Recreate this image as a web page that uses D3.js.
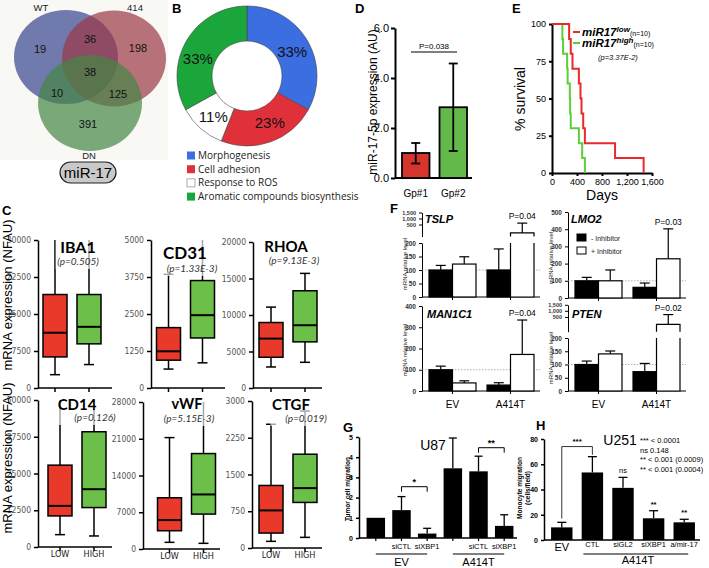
<!DOCTYPE html>
<html>
<head>
<meta charset="utf-8">
<script src="https://cdn.jsdelivr.net/npm/d3@7"></script>
<style>
  body { margin: 0; background: #fff; }
  svg { display: block; font-family: "Liberation Sans", Arial, sans-serif; }
</style>
</head>
<body>
<svg id="fig" width="709" height="568"></svg>
<script>
// ---------------- data ----------------
const vennSets = ["WT", "414", "DN"];
const vennCounts = [19, 36, 198, 38, 10, 125, 391]; // WT, WT&414, 414, all, WT&DN, 414&DN, DN

const goTerms = ["Morphogenesis", "Cell adhesion", "Response to ROS", "Aromatic compounds biosynthesis"];
const goShares = [33, 23, 11, 33];
const goColors = ["#3b6ee0", "#e0313b", "#ffffff", "#1ba63c"];

const gpGroups = ["Gp#1", "Gp#2"];
const gpMeans = [1.0, 2.83];
const gpLow = [0.58, 1.08];
const gpHigh = [1.4, 4.58];
const gpTicks = [0, 2, 4, 6];

const survLow = [[0,100],[274,90],[300,80],[328,70],[430,60],[456,50],[472,40],[499,30],[526,20],[1009,10],[1466,0]];
const survHigh = [[0,100],[166,90],[177,80],[242,70],[250,60],[285,50],[290,40],[300,30],[430,20],[483,10],[526,0]];
const survDays = [0, 400, 800, 1200, 1600];
const survPct = [0, 25, 50, 75, 100];

const boxGenes = ["IBA1", "CD31", "RHOA", "CD14", "vWF", "CTGF"];
const boxPvals = ["(p=0.505)", "(p=1.33E-3)", "(p=9.13E-3)", "(p=0.126)", "(p=5.15E-3)", "(p=0.019)"];
const boxMax = [30000, 5000, 20000, 50000, 28000, 3000];
const boxGroups = ["LOW", "HIGH"];
// [min, q1, median, q3, max]
const boxLow = [
  [2700, 6300, 11200, 18950, 30000],
  [640, 940, 1240, 2040, 3840],
  [2880, 4210, 6770, 8970, 11080],
  [4200, 10570, 13980, 27840, 50000],
  [1270, 3480, 5510, 9760, 21220],
  [136, 305, 767, 1276, 2525]
];
const boxHigh = [
  [4750, 8950, 12400, 18950, 30000],
  [850, 1690, 2460, 3630, 5000],
  [3520, 6320, 8600, 13320, 15700],
  [3750, 13410, 19660, 39200, 50000],
  [1080, 6650, 10390, 18180, 28000],
  [217, 930, 1222, 1914, 2796]
];
const boxColors = ["#e8392b", "#6cbf49"];

const fGenes = ["TSLP", "LMO2", "MAN1C1", "PTEN"];
const fGroups = ["EV", "A414T"];
const fSeries = ["- Inhibitor", "+ Inhibitor"];
const fMinus = [[100, 100], [100, 62], [100, 28], [100, 73]];
const fMinusErr = [[117, 178], [120, 87], [117, 39], [113, 104]];
const fPlus = [[122, 290], [100, 228], [38, 172], [140, 350]];
const fPlusErr = [[149, 615], [163, 402], [48, 334], [151, 695]];
const fPvals = ["P=0.04", "P=0.03", "P=0.04", "P=0.02"];
const fUpperTicks = [200, 500, 1000, 1500];

const gBars = ["", "siCTL", "siXBP1", "", "siCTL", "siXBP1"];
const gGroups = ["EV", "A414T"];
const gValues = [1.0, 1.38, 0.22, 3.45, 3.3, 0.6];
const gErr = [null, 2.05, 0.48, 4.95, 4.05, 1.15];
const gSigPairs = [[1, 2], [4, 5]];
const gSigLevel = [2.54, 4.47];
const gSigLabel = ["*", "**"];

const hBars = ["EV", "CTL", "siGL2", "siXBP1", "a/mir-17"];
const hValues = [10, 53.5, 41.3, 17.2, 14];
const hErr = [14, 66, 49.6, 23.2, 16.4];
const hStars = ["", "", "ns", "**", "**"];
const hLegend = ["***  < 0.0001", "ns  0.148", "**  < 0.001 (0.0009)", "**  < 0.001 (0.0004)"];

// ---------------- helpers ----------------
const svg = d3.select("#fig");
const NARROW = "'Liberation Sans Narrow', 'DejaVu Sans Condensed', sans-serif";

function addText(p, x, y, s, size, o = {}) {
  const t = p.append("text").attr("x", x).attr("y", y).attr("font-size", size).text(s);
  if (o.anchor) t.attr("text-anchor", o.anchor);
  if (o.weight) t.attr("font-weight", o.weight);
  if (o.style) t.attr("font-style", o.style);
  if (o.family) t.attr("font-family", o.family);
  t.attr("fill", o.fill || "#000");
  return t;
}
function addRotText(p, x, y, s, size, o = {}) {
  return addText(p, 0, 0, s, size, Object.assign({ anchor: "middle" }, o))
    .attr("transform", `translate(${x},${y}) rotate(-90)`);
}
function styleAxis(g, o = {}) {
  g.attr("font-family", o.family || null).attr("font-size", null);
  g.select(".domain").attr("stroke-width", o.width || 1);
  g.selectAll(".tick line").attr("stroke-width", o.width || 1);
  g.selectAll(".tick text").attr("font-size", o.size || 9).attr("fill", o.fill || "#000")
    .attr("font-weight", o.weight || null);
  return g;
}
function line(p, x1, y1, x2, y2, w = 1, c = "#000") {
  return p.append("line").attr("x1", x1).attr("y1", y1).attr("x2", x2).attr("y2", y2)
    .attr("stroke", c).attr("stroke-width", w);
}

// panel letters
[["A", 1, 13], ["B", 172, 13], ["D", 355, 13], ["E", 512, 13], ["C", 2, 215],
 ["F", 390, 213], ["G", 343, 432], ["H", 536, 430]].forEach(d =>
  addText(svg, d[1], d[2], d[0], 13, { weight: "bold" }));

// ---------------- A: Venn ----------------
const gA = svg.append("g");
gA.append("rect").attr("x", 0).attr("y", 0).attr("width", 168).attr("height", 160).attr("fill", "#f8f8f5");
const vennLayout = [
  { cx: 66, cy: 57, rx: 52, ry: 47, fill: "rgb(55,69,141)" },
  { cx: 114, cy: 58.5, rx: 52, ry: 48, fill: "rgb(155,55,69)" },
  { cx: 90, cy: 103, rx: 52, ry: 48, fill: "rgb(69,134,69)" }
];
gA.selectAll("ellipse").data(vennLayout).join("ellipse")
  .attr("cx", d => d.cx).attr("cy", d => d.cy).attr("rx", d => d.rx).attr("ry", d => d.ry)
  .attr("fill", d => d.fill).attr("fill-opacity", 0.7);
const vennSetPos = [[41, 11], [135, 11], [89, 159]];
vennSets.forEach((s, i) => addText(gA, vennSetPos[i][0], vennSetPos[i][1], s, 9.5, { anchor: "middle", fill: "#222" }));
const vennCountPos = [[40, 53], [90, 43], [138, 52], [90, 76], [57, 97], [118, 98], [88, 128]];
vennCounts.forEach((c, i) => addText(gA, vennCountPos[i][0], vennCountPos[i][1], c, 11, { anchor: "middle", fill: "#111" }));
gA.append("rect").attr("x", 60).attr("y", 162).attr("width", 56).attr("height", 21).attr("rx", 10.5)
  .attr("fill", "#c9c9c9").attr("stroke", "#222").attr("stroke-width", 1.2);
addText(gA, 88, 178, "miR-17", 15, { anchor: "middle" });

// ---------------- B: donut ----------------
const gB = svg.append("g").attr("transform", "translate(247,76)");
const pie = d3.pie().sort(null).value(d => d)(goShares);
const arc = d3.arc().innerRadius(35).outerRadius(70);
gB.selectAll("path").data(pie).join("path")
  .attr("d", arc).attr("fill", (d, i) => goColors[i]).attr("stroke", "#444").attr("stroke-width", 0.6);
const donutNudge = [[0, 3], [5, -2], [1, 2], [-4, 10]];
pie.forEach((d, i) => {
  const c = arc.centroid(d);
  addText(gB, c[0] + donutNudge[i][0], c[1] + donutNudge[i][1] + 5, goShares[i] + "%", 15, { anchor: "middle", fill: "#111" });
});
const gBL = svg.append("g");
goTerms.forEach((t, i) => {
  const y = 159 + i * 13.7;
  gBL.append("rect").attr("x", 187).attr("y", y - 7.5).attr("width", 8).attr("height", 8)
    .attr("fill", goColors[i]).attr("stroke", i === 2 ? "#777" : "none").attr("stroke-width", 0.6);
  addText(gBL, 198, y, t, 10, { family: "'Open Sans', sans-serif", fill: "#222" });
});

// ---------------- D: miR-17-5p bars ----------------
const gD = svg.append("g");
const dy = d3.scaleLinear().domain([0, 6]).range([178, 28]);
const dx = d3.scaleBand().domain(gpGroups).range([397, 472]).paddingInner(0.267).paddingOuter(0.133);
const dAxis = gD.append("g").attr("transform", "translate(395,0)")
  .call(d3.axisLeft(dy).tickValues(gpTicks).tickSize(4).tickPadding(2).tickSizeOuter(0));
styleAxis(dAxis, { width: 2, size: 11 });
line(gD, 395, 178, 472, 178, 2);
gpGroups.forEach((grp, i) => {
  gD.append("rect").attr("x", dx(grp)).attr("y", dy(gpMeans[i])).attr("width", dx.bandwidth())
    .attr("height", dy(0) - dy(gpMeans[i])).attr("fill", i ? "#64b94b" : "#d4352c")
    .attr("stroke", "#000").attr("stroke-width", 1.8);
  const cx = dx(grp) + dx.bandwidth() / 2;
  line(gD, cx, dy(gpLow[i]), cx, dy(gpHigh[i]), 1.8);
  line(gD, cx - 4.5, dy(gpLow[i]), cx + 4.5, dy(gpLow[i]), 1.8);
  line(gD, cx - 4.5, dy(gpHigh[i]), cx + 4.5, dy(gpHigh[i]), 1.8);
  addText(gD, cx, 197, grp, 10, { anchor: "middle" });
});
line(gD, 411, 52, 457, 52, 1);
addText(gD, 434, 49, "P=0.038", 8, { anchor: "middle" });
addRotText(gD, 377, 102, "miR-17-5p expression (AU)", 12);

// ---------------- E: survival ----------------
const gE = svg.append("g");
const ex = d3.scaleLinear().domain([0, 1600]).range([552, 652]);
const ey = d3.scaleLinear().domain([0, 100]).range([173, 24]);
const exAxis = gE.append("g").attr("transform", "translate(0,173)")
  .call(d3.axisBottom(ex).tickValues(survDays).tickSize(3).tickSizeOuter(0));
styleAxis(exAxis, { width: 2, size: 9 });
const eyAxis = gE.append("g").attr("transform", "translate(552,0)")
  .call(d3.axisLeft(ey).tickValues(survPct).tickSize(3).tickSizeOuter(0));
styleAxis(eyAxis, { width: 2, size: 9 });
const step = d3.line().x(d => ex(d[0])).y(d => ey(d[1])).curve(d3.curveStepAfter);
gE.append("path").attr("d", step(survHigh)).attr("fill", "none").attr("stroke", "#5ccf3a").attr("stroke-width", 2);
gE.append("path").attr("d", step(survLow)).attr("fill", "none").attr("stroke", "#ea2a2a").attr("stroke-width", 2);
addText(gE, 602, 200, "Days", 14, { anchor: "middle" });
addRotText(gE, 525, 99, "% survival", 14);
[["low", "#ea2a2a", 36], ["high", "#5ccf3a", 47]].forEach(([sup, col, y]) => {
  line(gE, 573, y - 4, 580, y - 4, 2, col);
  const t = addText(gE, 582, y, "miR17", 11.5, { weight: "bold", style: "italic" });
  t.append("tspan").attr("dy", -4).attr("font-size", 8).text(sup);
  t.append("tspan").attr("dy", 4).attr("font-size", 7).attr("font-weight", "normal").attr("font-style", "normal").text("(n=10)");
});
addText(gE, 598, 60, "(p=3.37E-2)", 7.5, { style: "italic" });

// ---------------- C: box plots ----------------
const boxLayout = [
  { ax: 38, top: 240, bot: 388, end: 112, c0: 55, tx: 78, ty: 253, px: 78, py: 265, ts: 16 },
  { ax: 151, top: 240, bot: 388, end: 225, c0: 168.5, tx: 185, ty: 259, px: 192, py: 272, ts: 17 },
  { ax: 253, top: 242, bot: 388, end: 322, c0: 271, tx: 286, ty: 252, px: 294, py: 264, ts: 15 },
  { ax: 38, top: 400, bot: 547, end: 112, c0: 60, tx: 77, ty: 410, px: 95, py: 421, ts: 15 },
  { ax: 143, top: 402, bot: 549, end: 220, c0: 169.5, tx: 187, ty: 409, px: 189, py: 422, ts: 14.5 },
  { ax: 252, top: 401, bot: 548, end: 322, c0: 271, tx: 291, ty: 410, px: 306, py: 422, ts: 15 }
];
boxGenes.forEach((gene, i) => {
  const L = boxLayout[i];
  const g = svg.append("g");
  const y = d3.scaleLinear().domain([0, boxMax[i]]).range([L.bot, L.top]);
  const x = d3.scalePoint().domain(boxGroups).range([L.c0, L.c0 + 34]);
  const a = g.append("g").attr("transform", `translate(${L.ax},0)`)
    .call(d3.axisLeft(y).tickValues(d3.range(5).map(k => boxMax[i] * k / 4))
      .tickSize(4).tickSizeOuter(0).tickFormat(d3.format("d")));
  styleAxis(a, { width: 1.5, size: 8.5, fill: "#555", family: NARROW });
  line(g, L.ax, L.bot, L.end, L.bot, 1.5);
  [boxLow[i], boxHigh[i]].forEach((s, k) => {
    const cx = x(boxGroups[k]);
    line(g, cx, L.bot, cx, L.bot + 4, 1.5);
    line(g, cx, y(s[0]), cx, y(s[1]), 1.5);
    line(g, cx, y(s[3]), cx, y(s[4]), 1.5);
    line(g, cx - 5, y(s[0]), cx + 5, y(s[0]), 1.5);
    if (s[4] < boxMax[i]) line(g, cx - 5, y(s[4]), cx + 5, y(s[4]), 1.5);
    g.append("rect").attr("x", cx - 12).attr("y", y(s[3])).attr("width", 24)
      .attr("height", y(s[1]) - y(s[3])).attr("fill", boxColors[k])
      .attr("stroke", "#000").attr("stroke-width", 1.5);
    line(g, cx - 12, y(s[2]), cx + 12, y(s[2]), 2);
    if (i >= 3) addText(g, cx, L.bot + 10, boxGroups[k], 9, { anchor: "middle", family: NARROW, fill: "#222" });
  });
  const t1 = addText(g, L.tx, L.ty, gene, L.ts, { anchor: "middle", weight: "bold", family: "Lato, sans-serif" });
  const t2 = addText(g, L.px, L.py, boxPvals[i], 10, { anchor: "middle", style: "italic", family: "Lato, sans-serif", fill: "#333" });
  const b1 = t1.node().getBBox(), b2 = t2.node().getBBox();
  const x0 = Math.min(b1.x, b2.x) - 1.5, x1 = Math.max(b1.x + b1.width, b2.x + b2.width) + 1;
  const y0 = Math.min(b1.y, L.top) - 1, y1 = b2.y + b2.height + 2;
  g.insert("rect", () => t1.node()).attr("x", x0).attr("y", y0).attr("width", x1 - x0)
    .attr("height", y1 - y0).attr("fill", "#fff").attr("fill-opacity", 0.65);
});
addRotText(svg, 12, 295, "mRNA expression (NFAU)", 13);
addRotText(svg, 12, 458, "mRNA expression (NFAU)", 13);

// ---------------- F: inhibitor bars ----------------
const fLayout = [
  { ax: 422, bot: 297, lowMax: 200, lowTop: 243, lowStep: 50, upper: [236.5, 224.5, 218.5, 212.5], tx: 425, ty: 223, lx: 407, ly: 264, labels: false },
  { ax: 568, bot: 298, lowMax: 500, lowTop: 212, lowStep: 100, upper: null, tx: 571, ty: 223, lx: 553, ly: 258, labels: false },
  { ax: 422, bot: 391, lowMax: 400, lowTop: 306, lowStep: 100, upper: null, tx: 427, ty: 318, lx: 407, ly: 350, labels: true },
  { ax: 568, bot: 391, lowMax: 200, lowTop: 338, lowStep: 50, upper: [331.7, 317, 310.8, 304.8], tx: 572, ty: 318, lx: 553, ly: 358, labels: true }
];
fGenes.forEach((gene, i) => {
  const L = fLayout[i];
  const g = svg.append("g");
  const yLow = d3.scaleLinear().domain([0, L.lowMax]).range([L.bot, L.lowTop]);
  const yUp = L.upper ? d3.scaleLinear().domain(fUpperTicks).range(L.upper) : null;
  const yOf = v => (yUp && v > L.lowMax) ? yUp(v) : yLow(v);
  const xg = d3.scaleBand().domain(fGroups).range([L.ax + 7, L.ax + 112]).paddingInner(0.19);
  const xs = d3.scaleBand().domain(fSeries).range([0, xg.bandwidth()]);
  const a1 = g.append("g").attr("transform", `translate(${L.ax},0)`)
    .call(d3.axisLeft(yLow).tickValues(d3.range(0, L.lowMax + 1, L.lowStep)).tickSize(3).tickSizeOuter(0));
  styleAxis(a1, { size: 6.5, weight: "bold", fill: "#333" });
  if (yUp) {
    const a2 = g.append("g").attr("transform", `translate(${L.ax},0)`)
      .call(d3.axisLeft(yUp).tickValues(fUpperTicks.slice(1)).tickSize(3).tickSizeOuter(0));
    styleAxis(a2, { size: 5.5, weight: "bold", fill: "#333" });
  }
  line(g, L.ax, yLow(100), L.ax + 118, yLow(100), 0.8, "#999").attr("stroke-dasharray", "1.5,1.5");
  line(g, L.ax, L.bot, L.ax + 118, L.bot, 1);
  fGroups.forEach((grp, j) => {
    const gc = xg(grp) + xg.bandwidth() / 2;
    line(g, gc, L.bot, gc, L.bot + 3, 1);
    if (L.labels) addText(g, gc, 408, grp, 10, { anchor: "middle" });
    [[fMinus, fMinusErr, "#000"], [fPlus, fPlusErr, "#fff"]].forEach(([vals, errs, fill], s) => {
      const v = vals[i][j], e = errs[i][j];
      const x0 = xg(grp) + xs(fSeries[s]), w = xs.bandwidth(), cx = x0 + w / 2;
      line(g, cx, yOf(v), cx, yOf(e), 1.2);
      line(g, cx - 5, yOf(e), cx + 5, yOf(e), 1.2);
      if (yUp && v > L.lowMax) {
        g.append("rect").attr("x", x0).attr("y", yLow(L.lowMax)).attr("width", w)
          .attr("height", L.bot - yLow(L.lowMax)).attr("fill", fill);
        g.append("path").attr("d", `M${x0},${yLow(L.lowMax)}V${L.bot}H${x0 + w}V${yLow(L.lowMax)}`)
          .attr("fill", "none").attr("stroke", "#000").attr("stroke-width", 1.2);
        g.append("path").attr("d", `M${x0},${yUp(L.lowMax)}V${yUp(v)}H${x0 + w}V${yUp(L.lowMax)}`)
          .attr("fill", "none").attr("stroke", "#000").attr("stroke-width", 1.2);
      } else {
        g.append("rect").attr("x", x0).attr("y", yOf(v)).attr("width", w)
          .attr("height", L.bot - yOf(v)).attr("fill", fill)
          .attr("stroke", "#000").attr("stroke-width", 1.2);
      }
      if (j === 1 && s === 1) addText(g, cx, yOf(e) - 4, fPvals[i], 8.5, { anchor: "middle" });
    });
  });
  addText(g, L.tx, L.ty, gene, 11, { weight: "bold", style: "italic" });
  addRotText(g, L.lx, L.ly, "mRNA relative level", 6, { fill: "#222" });
  if (i === 1) {
    fSeries.forEach((s, k) => {
      const yy = 234 + k * 13;
      g.append("rect").attr("x", 577).attr("y", yy).attr("width", 9).attr("height", 7)
        .attr("fill", k ? "#fff" : "#000").attr("stroke", "#000").attr("stroke-width", 1);
      addText(g, 591, yy + 6.5, s, 7, { fill: "#222" });
    });
  }
});

// ---------------- G: U87 ----------------
const gG = svg.append("g");
const gx = d3.scaleBand().domain(d3.range(gValues.length)).range([364, 516]).paddingInner(0.28).paddingOuter(0.1);
const gy = d3.scaleLinear().domain([0, 5]).range([538, 437]);
const gAxis = gG.append("g").attr("transform", "translate(359,0)")
  .call(d3.axisLeft(gy).ticks(5).tickSize(3).tickSizeOuter(0));
styleAxis(gAxis, { width: 1.5, size: 7, weight: "bold" });
line(gG, 359, 538, 517, 538, 1.5);
gValues.forEach((v, i) => {
  const cx = gx(i) + gx.bandwidth() / 2;
  if (gErr[i] !== null) {
    line(gG, cx, gy(v), cx, gy(gErr[i]), 1.3);
    line(gG, cx - 4, gy(gErr[i]), cx + 4, gy(gErr[i]), 1.3);
  }
  gG.append("rect").attr("x", gx(i)).attr("y", gy(v)).attr("width", gx.bandwidth())
    .attr("height", gy(0) - gy(v)).attr("fill", "#000");
  line(gG, cx, 538, cx, 541, 1.2);
  if (gBars[i]) addText(gG, cx, 549, gBars[i], 7.5, { anchor: "middle" });
});
gSigPairs.forEach(([a, b], k) => {
  const xa = gx(a) + gx.bandwidth() / 2, xb = gx(b) + gx.bandwidth() / 2, yl = gy(gSigLevel[k]);
  gG.append("path").attr("d", `M${xa},${yl + 5}V${yl}H${xb}V${yl + 5}`)
    .attr("fill", "none").attr("stroke", "#000").attr("stroke-width", 1);
  addText(gG, (xa + xb) / 2, yl - 2, gSigLabel[k], 9, { anchor: "middle", weight: "bold" });
});
gGroups.forEach((grp, k) => {
  const xa = gx(k * 3) + gx.bandwidth() / 2, xb = gx(k * 3 + 2) + gx.bandwidth() / 2;
  line(gG, xa, 554, xb, 554, 1.2);
  addText(gG, (xa + xb) / 2, 566, grp, 11, { anchor: "middle" });
});
addText(gG, 433, 450, "U87", 14, { anchor: "middle" });
addRotText(gG, 350, 489, "Tumor cell migration", 6.5, { weight: "bold" });

// ---------------- H: U251 ----------------
const gH = svg.append("g");
const hx = d3.scaleBand().domain(hBars).range([548, 698]).paddingInner(0.3).paddingOuter(0.1);
const hy = d3.scaleLinear().domain([0, 80]).range([540, 439]);
const hAxis = gH.append("g").attr("transform", "translate(544,0)")
  .call(d3.axisLeft(hy).tickValues([0, 20, 40, 60, 80]).tickSize(3).tickSizeOuter(0));
styleAxis(hAxis, { width: 1.5, size: 7, weight: "bold" });
line(gH, 544, 540, 700, 540, 1.5);
const hc = b => hx(b) + hx.bandwidth() / 2;
hBars.forEach((b, i) => {
  const cx = hc(b);
  line(gH, cx, hy(hValues[i]), cx, hy(hErr[i]), 1.3);
  line(gH, cx - 4.5, hy(hErr[i]), cx + 4.5, hy(hErr[i]), 1.3);
  gH.append("rect").attr("x", hx(b)).attr("y", hy(hValues[i])).attr("width", hx.bandwidth())
    .attr("height", hy(0) - hy(hValues[i])).attr("fill", "#000");
  if (hStars[i]) addText(gH, cx, hy(hErr[i]) - 4, hStars[i], 7.5, { anchor: "middle", weight: hStars[i] === "ns" ? null : "bold" });
  if (i === 0) addText(gH, cx, 551, b, 11, { anchor: "middle" });
  else addText(gH, cx, 547, b, 7.5, { anchor: "middle" });
});
gH.append("path").attr("d", `M${hc("EV")},${hy(17)}V${hy(74)}H${hc("CTL")}V${hy(67.5)}`)
  .attr("fill", "none").attr("stroke", "#000").attr("stroke-width", 0.8);
addText(gH, (hc("EV") + hc("CTL")) / 2, hy(74) - 3, "***", 8, { anchor: "middle", weight: "bold" });
line(gH, hc("CTL") - 9, 554, hc("a/mir-17") + 4, 554, 1.2);
addText(gH, 638, 564, "A414T", 11, { anchor: "middle" });
addText(gH, 620, 445, "U251", 14, { anchor: "middle" });
hLegend.forEach((t, i) => addText(gH, 640, 443 + i * 9.7, t, 7.5));
addRotText(gH, 522, 488, "Monocyte migration", 6.5, { weight: "bold" });
addRotText(gH, 530, 488, "(cells/field)", 6.5, { weight: "bold" });
</script>
</body>
</html>
